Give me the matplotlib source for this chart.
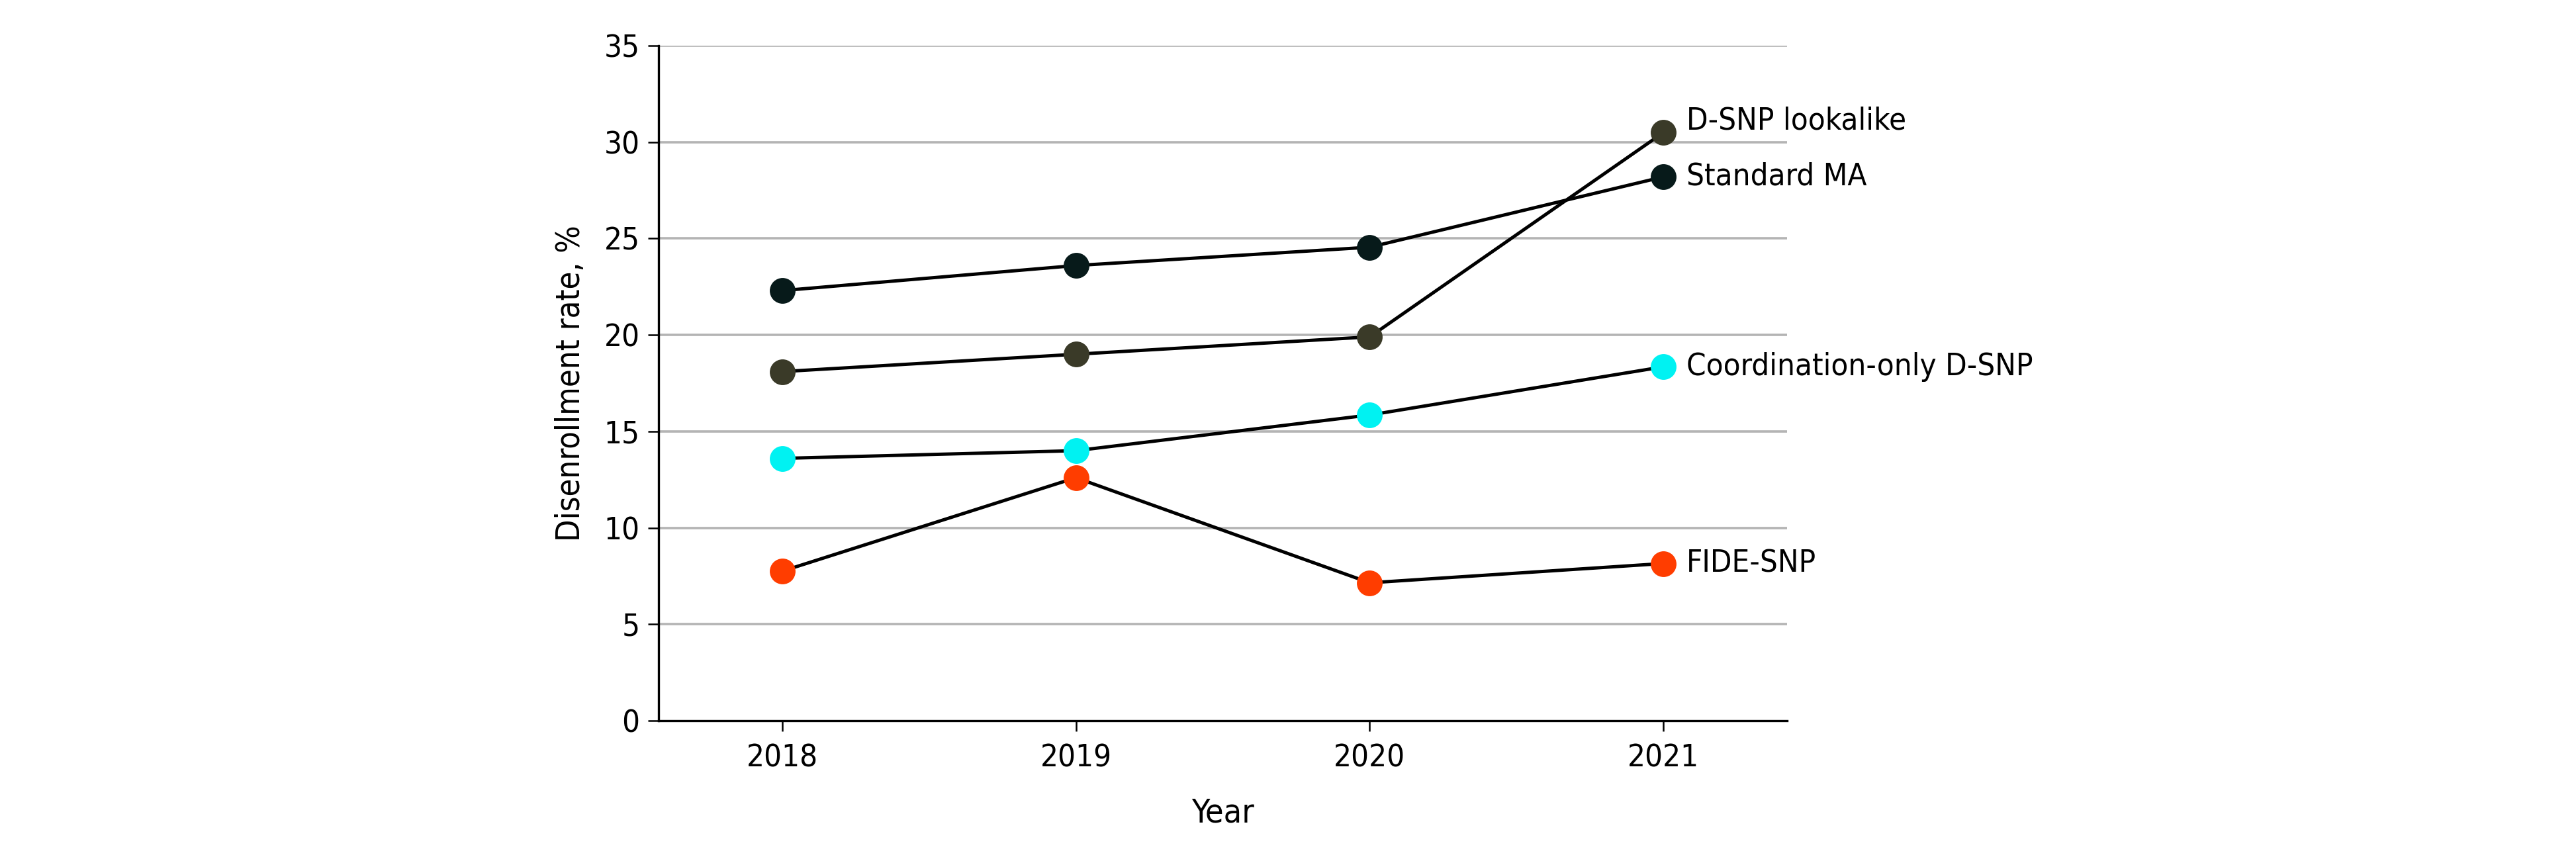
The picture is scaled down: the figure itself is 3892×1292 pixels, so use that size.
import matplotlib
matplotlib.use("Agg")
from matplotlib import pyplot as plt

years = [2018, 2019, 2020, 2021]
series_names = ["D-SNP lookalike", "Standard MA", "Coordination-only D-SNP", "FIDE-SNP"]
lookalike = [18.1, 19.0, 19.9, 30.5]
standard_ma = [22.3, 23.6, 24.55, 28.2]
coord_only = [13.6, 14.0, 15.85, 18.35]
fide_snp = [7.75, 12.6, 7.15, 8.15]
y_ticks = [0, 5, 10, 15, 20, 25, 30, 35]

colors = ["#3a3a28", "#071a1a", "#00f2f2", "#ff3d00"]
values = [lookalike, standard_ma, coord_only, fide_snp]
# label nudge in points (lookalike sits a bit high to clear the other label)
label_dy = [6, 0, 0, 0]

# the original uses a condensed face, DejaVu Sans Condensed is the nearest
plt.rcParams['font.family'] = ['DejaVu Sans']
plt.rcParams['font.stretch'] = 'condensed'

fig = plt.figure(figsize=(19.46, 6.46), dpi=200)
ax = fig.add_axes([0.2557, 0.1571, 0.6937 - 0.2557, 0.9466 - 0.1571])

for name, vals, col, dy in zip(series_names, values, colors, label_dy):
	ax.plot(years, vals, color="black", lw=1.8, zorder=3)
	ax.plot(years, vals, "o", color=col, ms=13, mec=col, zorder=4)
	ax.annotate(name, (years[-1], vals[-1]), xytext=(12.5, dy),
				textcoords="offset points", va="center", ha="left",
				fontsize=17, fontstretch="condensed", annotation_clip=False)

ax.set_xlim(2017.58, 2021.42)
ax.set_ylim(0, 35)
ax.set_xticks(years)
ax.set_xticklabels([str(y) for y in years], fontstretch="condensed")
ax.set_yticks(y_ticks)
ax.set_yticklabels([str(t) for t in y_ticks], fontstretch="condensed")
for t in y_ticks[1:]:
	ax.axhline(t, color="#b4b4b4", lw=1.3, zorder=1)

for s in ["top", "right"]:
	ax.spines[s].set_visible(False)
for s in ["left", "bottom"]:
	ax.spines[s].set_linewidth(1.2)
	ax.spines[s].set_color("black")
ax.tick_params(axis="both", length=5.8, width=0.9, labelsize=17)
ax.tick_params(axis="x", pad=6.5)
ax.tick_params(axis="y", pad=4.5)

ax.set_ylabel("Disenrollment rate, %", fontsize=17.5, fontstretch="condensed")
ax.yaxis.set_label_coords(-0.064, 0.5)
ax.set_xlabel("Year", fontsize=18, fontstretch="condensed")
ax.xaxis.set_label_coords(0.5, -0.113)

fig.savefig("out.png", dpi=200)
